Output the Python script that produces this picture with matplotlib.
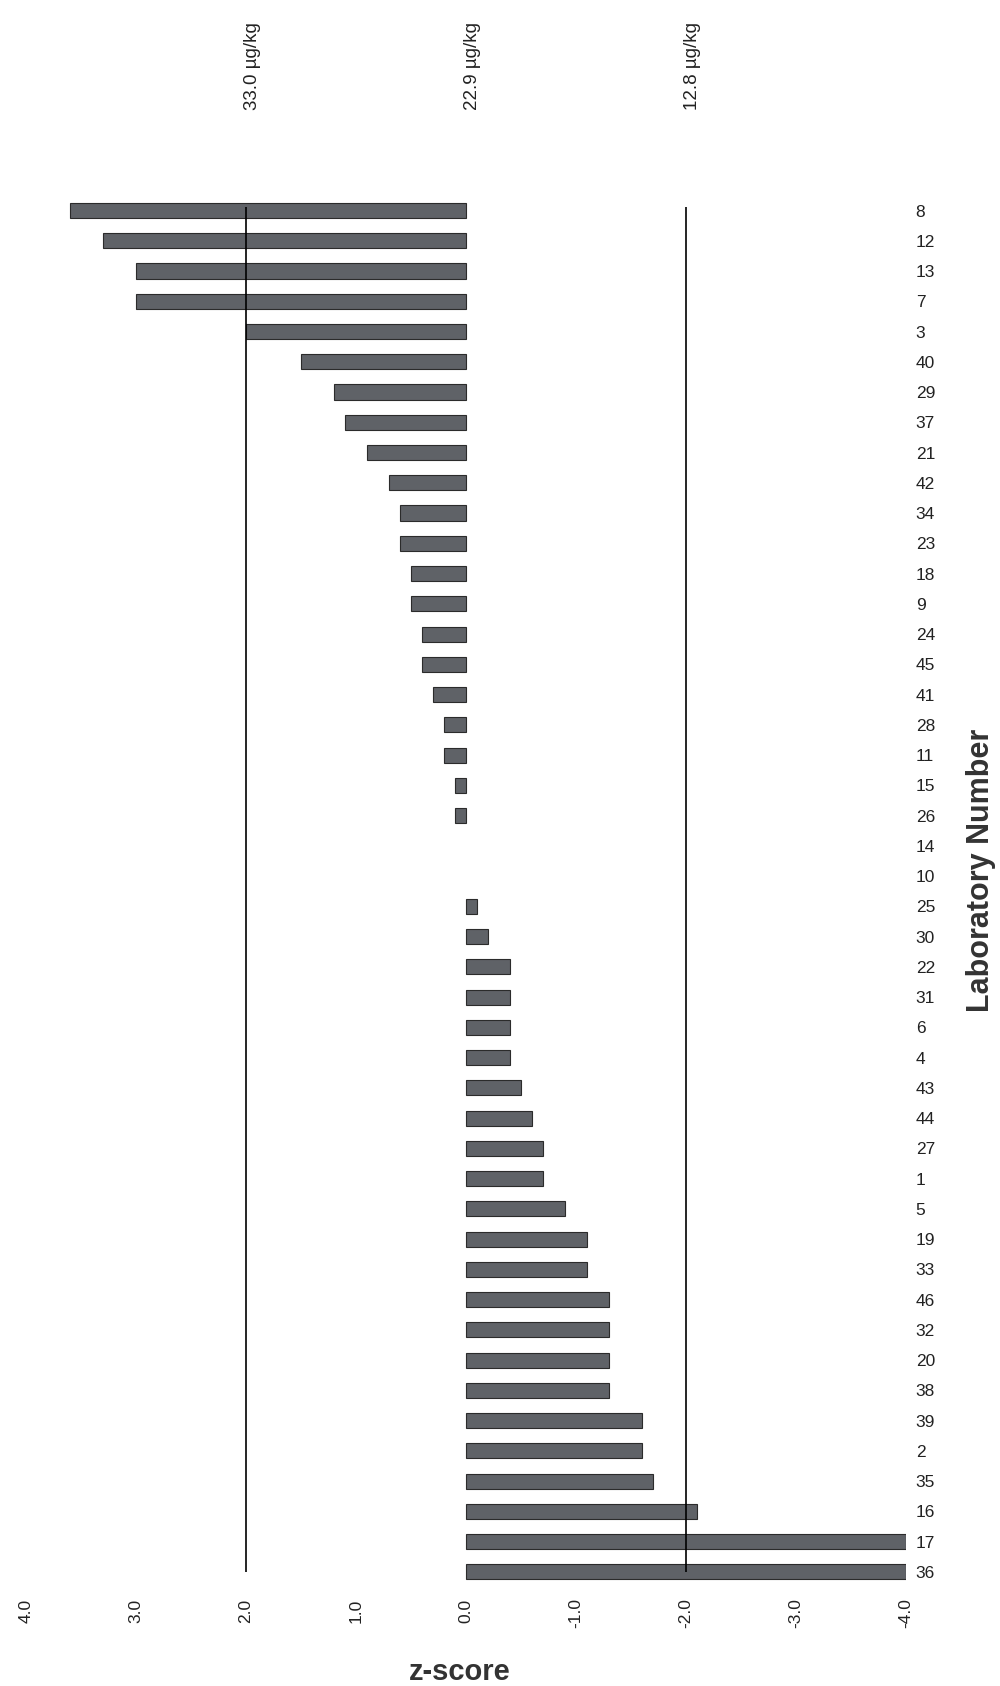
import matplotlib
matplotlib.use("Agg")
import matplotlib.pyplot as plt
import matplotlib.transforms as mtransforms

plt.rcParams['font.family'] = ['Liberation Sans', 'DejaVu Sans']
plt.rcParams['axes.unicode_minus'] = False

# laboratory numbers, top to bottom, and their z-scores
labs = ["8", "12", "13", "7", "3", "40", "29", "37", "21", "42", "34", "23",
        "18", "9", "24", "45", "41", "28", "11", "15", "26", "14", "10", "25",
        "30", "22", "31", "6", "4", "43", "44", "27", "1", "5", "19", "33",
        "46", "32", "20", "38", "39", "2", "35", "16", "17", "36"]
zscores = [3.6, 3.3, 3.0, 3.0, 2.0, 1.5, 1.2, 1.1, 0.9, 0.7, 0.6, 0.6,
           0.5, 0.5, 0.4, 0.4, 0.3, 0.2, 0.2, 0.1, 0.1, 0.0, 0.0, -0.1,
           -0.2, -0.4, -0.4, -0.4, -0.4, -0.5, -0.6, -0.7, -0.7, -0.9, -1.1, -1.1,
           -1.3, -1.3, -1.3, -1.3, -1.6, -1.6, -1.7, -2.1, -4.0, -4.0]

# reference lines: z-score and the concentration it stands for
ref_z = [2.0, 0.0, -2.0]
ref_labels = ["33.0 µg/kg", "22.9 µg/kg", "12.8 µg/kg"]

xticks = [4.0, 3.0, 2.0, 1.0, 0.0, -1.0, -2.0, -3.0, -4.0]
xtick_labels = ["4.0", "3.0", "2.0", "1.0", "0.0", "-1.0", "-2.0", "-3.0", "-4.0"]

fig = plt.figure(figsize=(10, 16.86), dpi=100)
ax = fig.add_axes([0.026, 0.0569, 0.88, 0.829])

pos = list(range(len(labs)))
# no outline for zero scores so they stay invisible
edge_w = [0.8 if z != 0 else 0 for z in zscores]
ax.barh(pos, zscores, height=0.5, color="#5f6267", edgecolor="#2b2b2b",
        linewidth=edge_w, zorder=2)

# vertical reference lines drawn over the bars
ax.vlines([ref_z[0], ref_z[2]], -0.1, len(labs) - 1, color="black",
          linewidth=1.2, zorder=3)

ax.set_xlim(4.0, -4.0)
ax.set_ylim(len(labs) - 1 + 0.6, -0.6)

ax.set_xticks(xticks)
ax.set_xticklabels(xtick_labels, rotation=90, fontsize=12.5, color="#222222")
ax.tick_params(axis="x", length=0, pad=6)

ax.yaxis.tick_right()
ax.set_yticks(pos)
ax.set_yticklabels(labs, fontsize=12.5, color="#222222")
ax.tick_params(axis="y", length=0, pad=7)
for lbl in ax.get_yticklabels():
    lbl.set_horizontalalignment("left")

for s in ax.spines.values():
    s.set_visible(False)

# concentration labels above each reference line
trans = mtransforms.blended_transform_factory(ax.transData, fig.transFigure)
for z, txt in zip(ref_z, ref_labels):
    ax.text(z - 0.06, 0.961, txt, transform=trans, rotation=90,
            ha="center", va="center", fontsize=13.5, color="#222222")

fig.text(0.46, 0.0085, "z-score", ha="center", va="center",
         fontsize=21, fontweight="bold", color="#333333")
fig.text(0.981, 0.484, "Laboratory Number", ha="center", va="center",
         rotation=90, fontsize=22, fontweight="bold", color="#333333")

fig.savefig("out.png", dpi=100)
